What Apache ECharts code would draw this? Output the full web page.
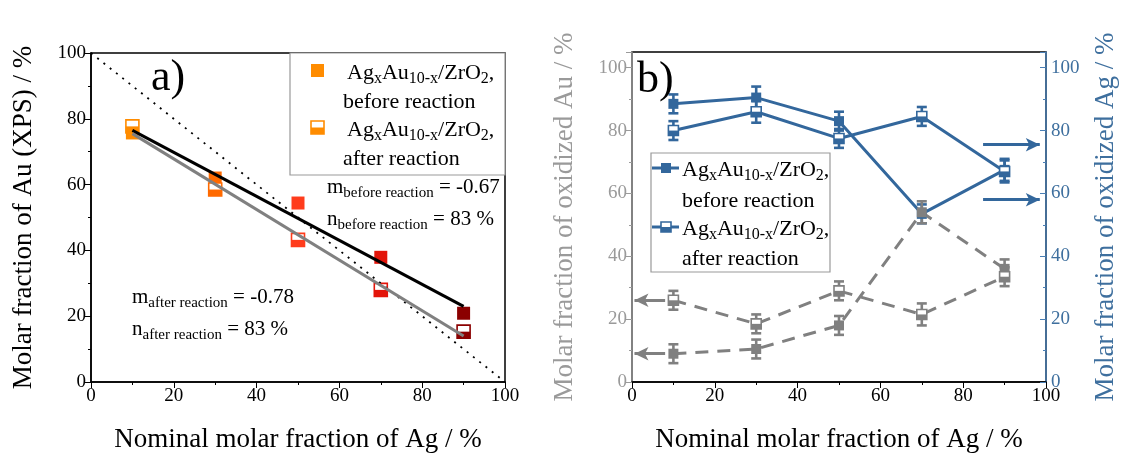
<!DOCTYPE html>
<html>
<head>
<meta charset="utf-8">
<script src="https://cdn.jsdelivr.net/npm/echarts@6/dist/echarts.min.js"></script>
<style>
  html, body { margin: 0; background: #fff; }
  #chart { width: 1122px; height: 454px; }
</style>
</head>
<body>
<div id="chart"></div>
<script>
// nominal Ag fraction (x) shared by both panels
const agNominal = [10, 30, 50, 70, 90];

// panel a) - Au fraction from XPS
const auBefore = [75.7, 62, 54.4, 37.9, 20.9];
const auAfter = [77.7, 58.5, 43.2, 28, 15.3];
const pointColors = ["#ff8c00", "#ff6a00", "#ff3c1c", "#e3150a", "#8b0000"];
const fitBefore = [[10, 76.5], [90, 23]];
const fitAfter = [[10, 75.5], [90, 14]];
const idealLine = [[0, 100], [100, 0]];

// panel b) - oxidized fractions
const agOxBefore = [88.5, 90.5, 83, 53.5, 67.5];
const agOxAfter = [80, 86, 77.5, 84.5, 67];
const agOxErr = [3, 3.5, 3, 3, 3.5];
const auOxBefore = [9, 10.5, 18, 54, 36];
const auOxAfter = [26, 18.5, 29, 21.5, 33.5];
const auOxErr = [3, 3, 3, 3.5, 3];
const agArrowY = [75.5, 58];
const auArrowY = [26, 9];

const serif = "Liberation Serif";
const blue = "#33679c";
const gray = "#808080";

let chart = echarts.init(document.getElementById("chart"));

// rich text pieces (subscripts)
function rich(size, sub) {
  return {
    m: { fontFamily: serif, fontSize: size, color: "#000", lineHeight: size + 6 },
    s: { fontFamily: serif, fontSize: sub, color: "#000", lineHeight: sub, verticalAlign: "bottom" }
  };
}
const formula = "{m|Ag}{s|x}{m|Au}{s|10-x}{m|/ZrO}{s|2}{m|,}";

function text(x, y, str, size, sub, extra) {
  return Object.assign({
    type: "text", x: x, y: y, z: 20,
    style: { text: str, rich: rich(size, sub || 14), verticalAlign: "middle", align: "left",
      font: size + "px " + serif, fill: "#000" }
  }, extra || {});
}

// open square + filled lower half
function halfSquares(name, vals, colors, xi, yi, size, z) {
  const open = {
    name: name, type: "scatter", xAxisIndex: xi, yAxisIndex: yi, symbol: "rect", symbolSize: size, z: z,
    data: agNominal.map((x, i) => ({ value: [x, vals[i]],
      itemStyle: { color: "#fff", borderColor: colors[i], borderWidth: 1.6, opacity: 1 } }))
  };
  const half = {
    type: "scatter", xAxisIndex: xi, yAxisIndex: yi, symbol: "rect", z: z + 0.1,
    symbolSize: [size, size / 2], symbolOffset: [0, size / 4],
    data: agNominal.map((x, i) => ({ value: [x, vals[i]], itemStyle: { color: colors[i], opacity: 1 } }))
  };
  return [open, half];
}

function errorBars(vals, errs, color, yi) {
  return {
    type: "custom", xAxisIndex: 1, yAxisIndex: yi, z: 4,
    encode: { x: 0, y: 1 },
    data: agNominal.map((x, i) => [x, vals[i], errs[i]]),
    renderItem: function(params, api) {
      const x = api.value(0), y = api.value(1), e = api.value(2);
      const hi = api.coord([x, y + e]);
      const lo = api.coord([x, y - e]);
      const st = { stroke: color, lineWidth: 2.6 };
      return { type: "group", children: [
        { type: "line", shape: { x1: hi[0], y1: hi[1], x2: lo[0], y2: lo[1] }, style: st },
        { type: "line", shape: { x1: hi[0] - 5, y1: hi[1], x2: hi[0] + 5, y2: hi[1] }, style: st },
        { type: "line", shape: { x1: lo[0] - 5, y1: lo[1], x2: lo[0] + 5, y2: lo[1] }, style: st }
      ] };
    }
  };
}

function arrows(ys, from, to, color) {
  return {
    silent: true, symbol: ["none", "arrow"], symbolSize: [10, 14],
    label: { show: false },
    lineStyle: { color: color, width: 3, type: "solid" },
    data: ys.map(y => [{ coord: [from, y] }, { coord: [to, y] }])
  };
}

function xAxisCfg(grid) {
  return {
    type: "value", gridIndex: grid, min: 0, max: 100, interval: 20,
    name: "Nominal molar fraction of Ag / %", nameLocation: "middle", nameGap: 44,
    nameTextStyle: { fontFamily: serif, fontSize: 27, color: "#000" },
    axisLine: { show: true, lineStyle: { color: "#000", width: 1.5 } },
    axisTick: { show: true, inside: false, length: 6, lineStyle: { color: "#000" } },
    minorTick: { show: true, splitNumber: 2, length: 3, lineStyle: { color: "#000" } },
    axisLabel: { fontFamily: serif, fontSize: 19, color: "#000", margin: 5 },
    splitLine: { show: false }
  };
}

function yAxisCfg(grid, pos, max, name, color, lineColor, inside, gap) {
  return {
    type: "value", gridIndex: grid, position: pos, min: 0, max: max, interval: 20,
    name: name, nameLocation: "middle", nameRotate: 90, nameGap: gap,
    nameTextStyle: { fontFamily: serif, fontSize: 27, color: color },
    axisLine: { show: true, onZero: false, lineStyle: { color: lineColor, width: 1.5 } },
    axisTick: { show: true, inside: inside, length: 6, lineStyle: { color: lineColor } },
    minorTick: { show: true, splitNumber: 2, length: 3, lineStyle: { color: lineColor } },
    axisLabel: { fontFamily: serif, fontSize: 19, color: color, margin: 5,
      formatter: v => (v > 100 ? "" : v) },
    splitLine: { show: false }
  };
}

chart.setOption({
  backgroundColor: "#fff",
  animation: false,
  grid: [
    { left: 91, right: 617, top: 53, bottom: 72, show: true, borderColor: "#000", borderWidth: 1.5,
      backgroundColor: "transparent", containLabel: false, outerBoundsMode: "none" },
    { left: 632, right: 76, top: 52, bottom: 72, show: true, borderColor: "#000", borderWidth: 1.5,
      backgroundColor: "transparent", containLabel: false, outerBoundsMode: "none" }
  ],
  xAxis: [xAxisCfg(0), xAxisCfg(1)],
  yAxis: [
    yAxisCfg(0, "left", 100, "Molar fraction of Au (XPS) / %", "#000", "#000", false, 54),
    yAxisCfg(1, "left", 105, "Molar fraction of oxidized Au / %", "#9a9a9a", "#9a9a9a", false, 54),
    yAxisCfg(1, "right", 105, "Molar fraction of oxidized Ag / %", "#3e6f9e", "#4a7fb5", true, 46)
  ],
  series: [
    // panel a
    {
      name: "before", type: "scatter", xAxisIndex: 0, yAxisIndex: 0, symbol: "rect", symbolSize: 13, z: 2,
      data: agNominal.map((x, i) => ({ value: [x, auBefore[i]], itemStyle: { color: pointColors[i], opacity: 1 } }))
    },
    ...halfSquares("after", auAfter, pointColors, 0, 0, 13, 3),
    {
      type: "line", xAxisIndex: 0, yAxisIndex: 0, data: idealLine, symbol: "none", z: 5,
      lineStyle: { color: "#000", width: 1.8, type: [2, 6] }
    },
    {
      type: "line", xAxisIndex: 0, yAxisIndex: 0, data: fitBefore, symbol: "none", z: 6,
      lineStyle: { color: "#000", width: 3 }
    },
    {
      type: "line", xAxisIndex: 0, yAxisIndex: 0, data: fitAfter, symbol: "none", z: 6,
      lineStyle: { color: gray, width: 3 }
    },
    // panel b - Ag (blue, right axis)
    {
      type: "line", xAxisIndex: 1, yAxisIndex: 2, symbol: "none", z: 3,
      data: agNominal.map((x, i) => [x, agOxBefore[i]]),
      lineStyle: { color: blue, width: 3 },
      markLine: arrows(agArrowY, 84.8, 98.5, blue)
    },
    {
      type: "line", xAxisIndex: 1, yAxisIndex: 2, symbol: "none", z: 3,
      data: agNominal.map((x, i) => [x, agOxAfter[i]]),
      lineStyle: { color: blue, width: 3 }
    },
    errorBars(agOxBefore, agOxErr, blue, 2),
    errorBars(agOxAfter, agOxErr, blue, 2),
    {
      type: "scatter", xAxisIndex: 1, yAxisIndex: 2, symbol: "rect", symbolSize: 10, z: 5,
      itemStyle: { color: blue, opacity: 1 },
      data: agNominal.map((x, i) => [x, agOxBefore[i]])
    },
    ...halfSquares("agAfter", agOxAfter, agNominal.map(() => blue), 1, 2, 10, 5),
    // panel b - Au (gray, left axis)
    {
      type: "line", xAxisIndex: 1, yAxisIndex: 1, symbol: "none", z: 3,
      data: agNominal.map((x, i) => [x, auOxBefore[i]]),
      lineStyle: { color: gray, width: 3, type: [13, 9] },
      markLine: arrows(auArrowY, 8, 0.6, gray)
    },
    {
      type: "line", xAxisIndex: 1, yAxisIndex: 1, symbol: "none", z: 3,
      data: agNominal.map((x, i) => [x, auOxAfter[i]]),
      lineStyle: { color: gray, width: 3, type: [13, 9] }
    },
    errorBars(auOxBefore, auOxErr, gray, 1),
    errorBars(auOxAfter, auOxErr, gray, 1),
    {
      type: "scatter", xAxisIndex: 1, yAxisIndex: 1, symbol: "rect", symbolSize: 10, z: 6,
      itemStyle: { color: gray, opacity: 1 },
      data: agNominal.map((x, i) => [x, auOxBefore[i]])
    },
    ...halfSquares("auAfter", auOxAfter, agNominal.map(() => gray), 1, 1, 10, 6)
  ],
  graphic: [
    // panel labels
    text(151, 78, "a)", 44),
    text(637, 80, "b)", 44),
    // legend a
    { type: "rect", z: 15, shape: { x: 290, y: 53, width: 215, height: 122 },
      style: { fill: "#fff", stroke: "#999", lineWidth: 1.2 } },
    { type: "rect", z: 20, shape: { x: 311, y: 64, width: 13, height: 13 }, style: { fill: "#ff8c00" } },
    { type: "rect", z: 20, shape: { x: 311, y: 121, width: 13, height: 13 },
      style: { fill: "#fff", stroke: "#ff8c00", lineWidth: 1.6 } },
    { type: "rect", z: 21, shape: { x: 311, y: 127.5, width: 13, height: 6.5 }, style: { fill: "#ff8c00" } },
    text(347, 73, formula, 22, 16),
    text(343, 102, "{m|before reaction}", 22),
    text(347, 130, formula, 22, 16),
    text(343, 159, "{m|after reaction}", 22),
    // fit annotations
    text(327, 187, "{m|m}{s|before reaction}{m| = -0.67}", 21, 15),
    text(327, 219, "{m|n}{s|before reaction}{m| = 83 %}", 21, 15),
    text(132, 297, "{m|m}{s|after reaction}{m| = -0.78}", 21, 15),
    text(132, 329, "{m|n}{s|after reaction}{m| = 83 %}", 21, 15),
    // legend b
    { type: "rect", z: 15, shape: { x: 651, y: 153, width: 179, height: 119 },
      style: { fill: "#fff", stroke: "#999", lineWidth: 1.2 } },
    { type: "line", z: 20, shape: { x1: 652, y1: 168, x2: 679, y2: 168 }, style: { stroke: blue, lineWidth: 3 } },
    { type: "rect", z: 21, shape: { x: 661, y: 163, width: 10, height: 10 }, style: { fill: blue } },
    { type: "line", z: 20, shape: { x1: 652, y1: 227, x2: 679, y2: 227 }, style: { stroke: blue, lineWidth: 3 } },
    { type: "rect", z: 21, shape: { x: 661, y: 222, width: 10, height: 10 },
      style: { fill: "#fff", stroke: blue, lineWidth: 1.6 } },
    { type: "rect", z: 22, shape: { x: 661, y: 227, width: 10, height: 5 }, style: { fill: blue } },
    text(682, 170, formula, 22, 16),
    text(682, 201, "{m|before reaction}", 22),
    text(682, 229, formula, 22, 16),
    text(682, 259, "{m|after reaction}", 22)
  ]
});
</script>
</body>
</html>
